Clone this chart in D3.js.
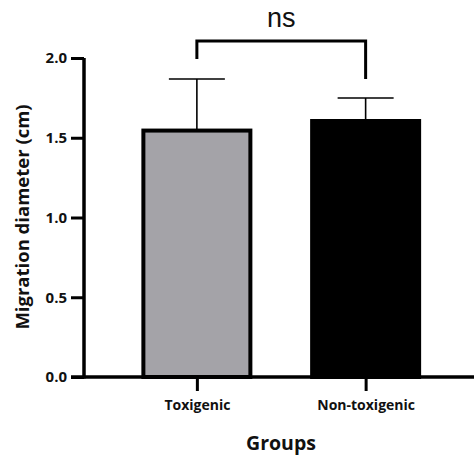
<!DOCTYPE html>
<html>
<head>
<meta charset="utf-8">
<script src="https://cdn.jsdelivr.net/npm/d3@7"></script>
<style>
html,body{margin:0;padding:0;background:#fff;}
svg{display:block;}
</style>
</head>
<body>
<svg id="chart" width="475" height="457"></svg>
<script>
const categories = ["Toxigenic", "Non-toxigenic"];
const means = [1.545, 1.605];
const sds = [0.323, 0.144];
const yTicks = [0.0, 0.5, 1.0, 1.5, 2.0];
const sigLabel = "ns";
const bracketLevel = 2.107;
const bracketEnds = [1.994, 1.868];

const svg = d3.select("#chart");
const x = d3.scalePoint().domain(categories).range([112.5, 450]).padding(0.5);
const y = d3.scaleLinear().domain([0, 2]).range([377, 58]);
const barW = 107;
const fills = ["#a4a3a8", "#000000"];

const tickFont = "'Open Sans', sans-serif";

// bars
svg.selectAll("rect.bar").data(categories).join("rect")
  .attr("class","bar")
  .attr("x", d => x(d) - barW/2)
  .attr("y", (d,i) => y(means[i]))
  .attr("width", barW)
  .attr("height", (d,i) => y(0) - y(means[i]))
  .attr("fill", (d,i) => fills[i])
  .attr("stroke", "#000")
  .attr("stroke-width", 4);

// error bars
const capW = 56;
categories.forEach((c,i) => {
  svg.append("line").attr("x1", x(c)).attr("x2", x(c))
    .attr("y1", y(means[i])).attr("y2", y(means[i]+sds[i]))
    .attr("stroke","#000").attr("stroke-width",1.6);
  svg.append("line").attr("x1", x(c)-capW/2).attr("x2", x(c)+capW/2)
    .attr("y1", y(means[i]+sds[i])).attr("y2", y(means[i]+sds[i]))
    .attr("stroke","#000").attr("stroke-width",1.6);
});

// y axis
const yAxis = d3.axisLeft(y).tickValues(yTicks).tickFormat(d3.format(".1f")).tickSize(13).tickPadding(4);
const gy = svg.append("g").attr("transform","translate(84,0)").call(yAxis);
gy.select(".domain").attr("stroke-width",3.5).attr("d", `M0,${y(2)}V${y(0)+1.5}`);
gy.selectAll(".tick line").attr("stroke-width",3);
gy.selectAll(".tick text").attr("font-family",tickFont).attr("font-weight","bold").attr("font-size","15px").attr("fill","#111");

// x axis
const xAxis = d3.axisBottom(x).tickSize(14).tickPadding(9);
const gx = svg.append("g").attr("transform",`translate(0,${y(0)})`).call(xAxis);
gx.select(".domain").attr("stroke-width",3.5).attr("d","M71,0H474");
gx.selectAll(".tick line").attr("stroke-width",3);
gx.selectAll(".tick text").attr("font-family",tickFont).attr("font-weight","bold").attr("font-size","14px").attr("fill","#111");

// significance bracket
const bx0 = x(categories[0]), bx1 = x(categories[1]);
svg.append("path")
  .attr("d", `M${bx0},${y(bracketEnds[0])}V${y(bracketLevel)}H${bx1}V${y(bracketEnds[1])}`)
  .attr("fill","none").attr("stroke","#000").attr("stroke-width",3);
svg.append("text").attr("x",(bx0+bx1)/2).attr("y",27)
  .attr("text-anchor","middle")
  .attr("font-family","'Liberation Sans', Arial, sans-serif")
  .attr("font-size","27px").attr("fill","#111").text(sigLabel);

// axis titles
svg.append("text").attr("transform","translate(29,217) rotate(-90)")
  .attr("text-anchor","middle")
  .attr("font-family",tickFont).attr("font-weight","bold").attr("font-size","18.5px").attr("fill","#111")
  .text("Migration diameter (cm)");
svg.append("text").attr("x",281).attr("y",450)
  .attr("text-anchor","middle")
  .attr("font-family",tickFont).attr("font-weight","bold").attr("font-size","19.5px").attr("fill","#111")
  .text("Groups");
</script>
</body>
</html>
